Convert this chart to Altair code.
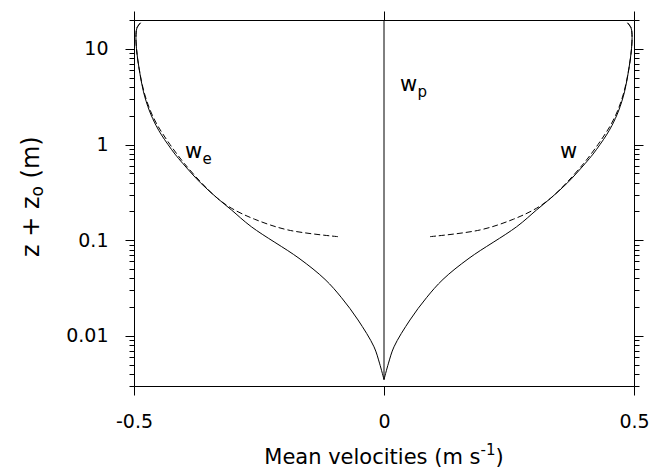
import altair as alt
import pandas as pd

FONT = "DejaVu Sans"

# Mean velocity profiles: height z + z0 (m) and velocity (m s-1)
heights_w = [0.0035, 0.0052, 0.0077, 0.0147, 0.0251, 0.039, 0.0648, 0.138, 0.207, 0.274,
             0.398, 0.631, 0.794, 1.0, 1.259, 1.585, 2.239, 3.548, 6.31, 10.0, 14.1, 16.6, 18.7]
w_vals = [0.0, 0.009, 0.020, 0.052, 0.085, 0.118, 0.170, 0.265, 0.305, 0.333,
          0.367, 0.402, 0.418, 0.432, 0.445, 0.456, 0.469, 0.481, 0.490, 0.495, 0.496, 0.494, 0.487]
we_vals = [0.0, -0.009, -0.020, -0.052, -0.085, -0.118, -0.170, -0.265, -0.305, -0.333,
           -0.367, -0.402, -0.418, -0.432, -0.445, -0.456, -0.469, -0.481, -0.490, -0.495, -0.496, -0.494, -0.487]

# Dashed (approximate) profiles
heights_dash = [0.109, 0.128, 0.166, 0.216, 0.274, 0.398, 0.631, 0.794, 1.0, 1.259, 1.585,
                2.239, 3.548, 6.31, 10.0, 14.1, 16.6, 18.7]
w_dash = [0.092, 0.192, 0.259, 0.305, 0.333, 0.365, 0.399, 0.414, 0.428, 0.441, 0.453,
          0.467, 0.480, 0.490, 0.495, 0.496, 0.494, 0.487]
we_dash = [-0.092, -0.192, -0.259, -0.305, -0.333, -0.365, -0.399, -0.414, -0.428, -0.441, -0.453,
           -0.467, -0.480, -0.490, -0.495, -0.496, -0.494, -0.487]

# w_p profile
heights_wp = [0.0035, 20.0]
wp_vals = [0.0, 0.0]

# Curve labels
label_x = [-0.398, 0.032, 0.352]
label_y = [0.835, 4.19, 0.835]
label_main = ["w", "w", "w"]
label_sub = ["e", "p", ""]

x_ticks = [-0.5, 0.0, 0.5]
y_ticks = [0.003, 0.004, 0.005, 0.006, 0.007, 0.008, 0.009,
           0.01, 0.02, 0.03, 0.04, 0.05, 0.06, 0.07, 0.08, 0.09,
           0.1, 0.2, 0.3, 0.4, 0.5, 0.6, 0.7, 0.8, 0.9,
           1, 2, 3, 4, 5, 6, 7, 8, 9, 10, 20]


def frame(series_map):
    rows = []
    for name, (hs, vs) in series_map.items():
        for i, (h, v) in enumerate(zip(hs, vs)):
            rows.append({"series": name, "idx": i, "h": h, "v": v})
    return pd.DataFrame(rows)


solid = frame({"w": (heights_w, w_vals), "we": (heights_w, we_vals)})
dashed = frame({"w": (heights_dash, w_dash), "we": (heights_dash, we_dash)})
wp = frame({"wp": (heights_wp, wp_vals)})
labels = pd.DataFrame({"x": label_x, "y": label_y, "main": label_main, "sub": label_sub})

xscale = alt.Scale(domain=[-0.5, 0.5], nice=False, zero=False)
yscale = alt.Scale(type="log", domain=[0.003, 20], nice=False)

decade = "abs(log(datum.value)/LN10 - round(log(datum.value)/LN10)) < 0.001"
tick_len = {"condition": {"test": decade, "value": 9}, "value": 5}

common = dict(grid=False, title=None, domainColor="black", tickColor="black",
              labelColor="black", labelFont=FONT, labelFontSize=19,
              domainWidth=1, tickWidth=1, labelFlush=False, labelOverlap=False)

ax_bottom = alt.Axis(orient="bottom", values=x_ticks, tickSize=9, labelPadding=17,
                     labelExpr="datum.value == 0 ? '0' : (datum.value < 0 ? '-' : '') + format(abs(datum.value), '.1f')",
                     **common)
ax_top = alt.Axis(orient="top", values=x_ticks, tickSize=9, labels=False, **common)
ax_left = alt.Axis(orient="left", values=y_ticks, tickSize=tick_len, labelPadding=17,
                   labelExpr=f"({decade}) ? format(datum.value, '~g') : ''", **common)
ax_right = alt.Axis(orient="right", values=y_ticks, tickSize=tick_len, labels=False, **common)

line_solid = alt.Chart(solid).mark_line(color="black", strokeWidth=1, interpolate="catmull-rom").encode(
    x=alt.X("v:Q", scale=xscale, axis=ax_bottom),
    y=alt.Y("h:Q", scale=yscale, axis=ax_left),
    detail="series:N",
    order="idx:Q",
)

line_dash = alt.Chart(dashed).mark_line(color="black", strokeWidth=1, strokeDash=[6, 3],
                                        interpolate="catmull-rom").encode(
    x=alt.X("v:Q", scale=xscale, axis=ax_top),
    y=alt.Y("h:Q", scale=yscale, axis=ax_right),
    detail="series:N",
    order="idx:Q",
)

line_wp = alt.Chart(wp).mark_line(color="black", strokeWidth=1).encode(
    x=alt.X("v:Q", scale=xscale, axis=None),
    y=alt.Y("h:Q", scale=yscale, axis=None),
    order="idx:Q",
)

lab_main = alt.Chart(labels).mark_text(font=FONT, fontSize=21, align="left", color="black").encode(
    x=alt.X("x:Q", scale=xscale, axis=None),
    y=alt.Y("y:Q", scale=yscale, axis=None),
    text="main:N",
)
lab_sub = alt.Chart(labels).mark_text(font=FONT, fontSize=15, align="left", color="black",
                                      dx=17.5, dy=6.6).encode(
    x=alt.X("x:Q", scale=xscale, axis=None),
    y=alt.Y("y:Q", scale=yscale, axis=None),
    text="sub:N",
)

# Axis titles with sub/superscripts, composed from text pieces
xt_main = alt.Chart(pd.DataFrame({"t": ["Mean velocities (m s"]})).mark_text(
    font=FONT, fontSize=21, align="left", color="black").encode(
    x=alt.value(130.3), y=alt.value(438), text="t:N")
xt_sup = alt.Chart(pd.DataFrame({"t": ["-1"]})).mark_text(
    font=FONT, fontSize=15, align="left", color="black", dy=-8).encode(
    x=alt.value(346.5), y=alt.value(438), text="t:N")
xt_end = alt.Chart(pd.DataFrame({"t": [")"]})).mark_text(
    font=FONT, fontSize=21, align="left", color="black").encode(
    x=alt.value(361.5), y=alt.value(438), text="t:N")

yt_main = alt.Chart(pd.DataFrame({"t": ["z + z"]})).mark_text(
    font=FONT, fontSize=24, align="left", angle=270, color="black").encode(
    x=alt.value(-102), y=alt.value(237), text="t:N")
yt_sub = alt.Chart(pd.DataFrame({"t": ["o"]})).mark_text(
    font=FONT, fontSize=17, align="left", angle=270, color="black", dy=6).encode(
    x=alt.value(-102), y=alt.value(176.4), text="t:N")
yt_end = alt.Chart(pd.DataFrame({"t": ["(m)"]})).mark_text(
    font=FONT, fontSize=24, align="left", angle=270, color="black").encode(
    x=alt.value(-102), y=alt.value(158.4), text="t:N")

chart = alt.layer(
    line_solid, line_dash, line_wp, lab_main, lab_sub,
    xt_main, xt_sup, xt_end, yt_main, yt_sub, yt_end,
).resolve_scale(
    x="independent", y="independent"
).properties(
    width=500, height=366,
    autosize=alt.AutoSizeParams(type="none"),
    padding={"left": 134, "top": 20, "right": 30, "bottom": 84},
).configure_view(
    stroke=None
).configure(
    background="white"
)

chart.save("out.html", embed_options={"renderer": "svg", "actions": False})
